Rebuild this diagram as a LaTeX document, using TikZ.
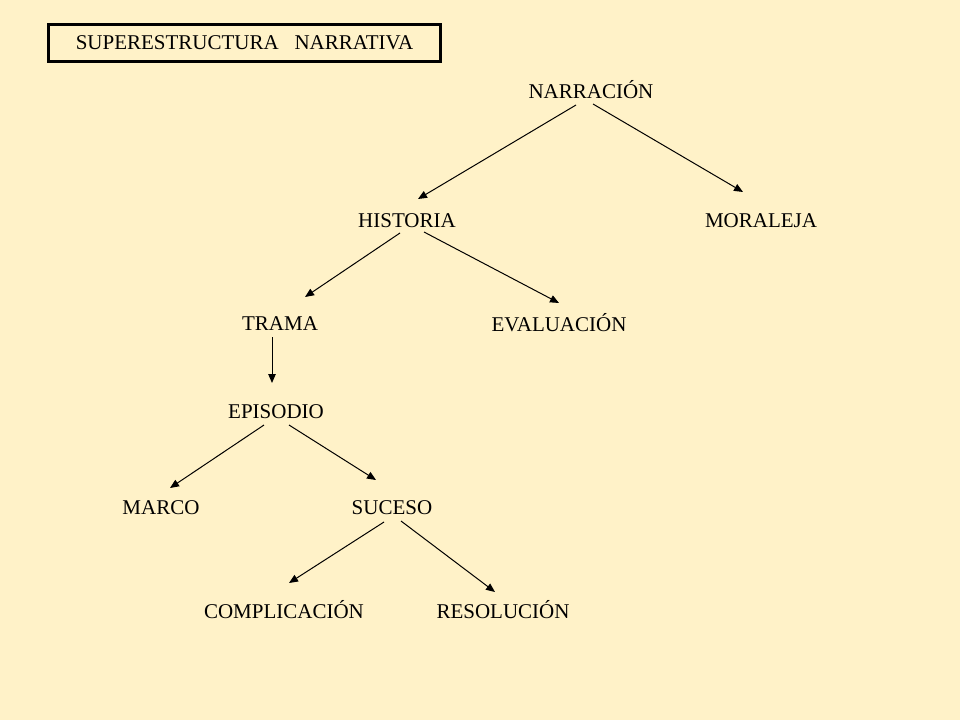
\documentclass[tikz,border=0pt]{standalone}
\usepackage{fontspec}
\setmainfont{Liberation Serif}
\usetikzlibrary{arrows.meta}
\definecolor{bg}{HTML}{FFF2C8}
\begin{document}
\begin{tikzpicture}[x=1pt,y=-1pt,
  lbl/.style={inner sep=0pt, anchor=base, font=\fontsize{21}{25}\selectfont},
  conn/.style={line width=1pt, -{Triangle[length=9pt,width=7.5pt]}}]
\fill[bg] (0,0) rectangle (960,720);
\useasboundingbox (0,0) rectangle (960,720);
\node[draw, line width=3pt, minimum width=392pt, minimum height=37pt, inner sep=0pt,
      font=\fontsize{21}{25}\selectfont] (title) at (244.5,43) {SUPERESTRUCTURA\ \ \ NARRATIVA};
\node[lbl] (narr) at (591,98) {NARRACIÓN};
\node[lbl] (hist) at (407,227) {HISTORIA};
\node[lbl] (moral) at (761,227) {MORALEJA};
\node[lbl] (trama) at (280,330) {TRAMA};
\node[lbl] (eval) at (559,331) {EVALUACIÓN};
\node[lbl] (epi) at (276,418) {EPISODIO};
\node[lbl] (marco) at (161,514) {MARCO};
\node[lbl] (suceso) at (392,514) {SUCESO};
\node[lbl] (compl) at (284,618) {COMPLICACIÓN};
\node[lbl] (resol) at (503,618) {RESOLUCIÓN};
\draw[conn] ([shift={(-15,7)}]narr.base) -- ([shift={(11,-28)}]hist.base);
\draw[conn] ([shift={(2,6)}]narr.base) -- ([shift={(-18,-35)}]moral.base);
\draw[conn] ([shift={(-7,6)}]hist.base) -- ([shift={(25,-33)}]trama.base);
\draw[conn] ([shift={(17,5)}]hist.base) -- ([shift={(0,-28)}]eval.base);
\draw[conn] ([shift={(-8,7)}]trama.base) -- ([shift={(-4,-35)}]epi.base);
\draw[conn] ([shift={(-12,7)}]epi.base) -- ([shift={(9,-26)}]marco.base);
\draw[conn] ([shift={(13,7)}]epi.base) -- ([shift={(-16,-34)}]suceso.base);
\draw[conn] ([shift={(-8,8)}]suceso.base) -- ([shift={(5,-35)}]compl.base);
\draw[conn] ([shift={(9,7)}]suceso.base) -- ([shift={(-8,-26)}]resol.base);
\end{tikzpicture}
\end{document}
